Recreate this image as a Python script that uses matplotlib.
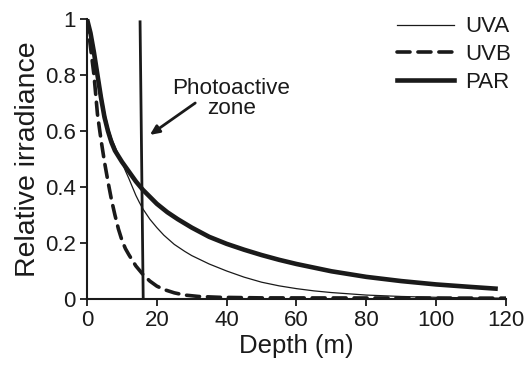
import matplotlib
matplotlib.use("Agg")
import matplotlib.pyplot as plt

plt.rcParams['font.family'] = ['Liberation Sans', 'DejaVu Sans']

# Depth (m) and relative irradiance
par_depth = [0, 1, 2, 3, 4, 5, 6, 7, 8, 9, 10, 12, 14, 16, 18, 20, 23, 26, 30, 35, 40, 45, 50, 55,
             60, 70, 80, 90, 100, 110, 117]
par_vals = [1.0, 0.95, 0.88, 0.80, 0.72, 0.65, 0.60, 0.56, 0.53, 0.51, 0.49, 0.455, 0.42, 0.39,
            0.365, 0.34, 0.31, 0.285, 0.255, 0.222, 0.197, 0.176, 0.157, 0.14, 0.125, 0.099, 0.079,
            0.064, 0.052, 0.043, 0.037]

uva_depth = [0, 1, 2, 3, 4, 5, 6, 7, 8, 9, 10, 11, 12, 13, 14, 15, 16, 18, 20, 22, 25, 28, 30, 35,
             40, 45, 50, 55, 60, 65, 70, 80, 90, 100, 110, 119]
uva_vals = [1.0, 0.96, 0.90, 0.82, 0.74, 0.67, 0.615, 0.575, 0.545, 0.515, 0.49, 0.458, 0.43, 0.40,
            0.37, 0.345, 0.322, 0.285, 0.255, 0.228, 0.195, 0.17, 0.155, 0.125, 0.10, 0.078, 0.06,
            0.047, 0.037, 0.029, 0.023, 0.014, 0.009, 0.006, 0.004, 0.003]

uvb_depth = [0, 1, 2, 3, 4, 5, 6, 7, 8, 9, 10, 11, 12, 14, 16, 18, 20, 22, 25, 28, 32, 38, 50, 120]
uvb_vals = [1.0, 0.90, 0.80, 0.66, 0.57, 0.49, 0.42, 0.355, 0.30, 0.25, 0.21, 0.18, 0.158, 0.118,
            0.088, 0.064, 0.046, 0.034, 0.022, 0.014, 0.009, 0.006, 0.004, 0.003]

zone_x = [15.2, 16.1]
zone_y = [0.99, 0.0]

x_ticks = [0, 20, 40, 60, 80, 100, 120]
y_ticks = [0, 0.2, 0.4, 0.6, 0.8, 1]
y_ticklabels = ['0', '0.2', '0.4', '0.6', '0.8', '1']

ink = '#1a1a1a'
fs = 16

fig = plt.figure(figsize=(5.25, 3.67), dpi=100)
ax = fig.add_axes([0.1657, 0.1853, 0.7981, 0.7629])

ax.plot(uva_depth, uva_vals, color=ink, lw=0.9, label='UVA')
ax.plot(uvb_depth, uvb_vals, color=ink, lw=2.6, ls=(0, (3.6, 2.2)), dash_capstyle='round', label='UVB')
ax.plot(par_depth, par_vals, color=ink, lw=3.3, label='PAR')
ax.plot(zone_x, zone_y, color=ink, lw=2.0)

ax.annotate('', xy=(18.0, 0.586), xytext=(31.0, 0.70),
            arrowprops=dict(arrowstyle='-|>,head_length=0.55,head_width=0.25', color=ink, lw=2.0,
                            shrinkA=0, shrinkB=0))
ax.text(41.3, 0.715, 'Photoactive\nzone', ha='center', va='center', fontsize=16.2, color=ink,
        linespacing=0.92)

ax.set_xlim(0, 120)
ax.set_ylim(0, 1)
ax.set_xticks(x_ticks)
ax.set_yticks(y_ticks)
ax.set_yticklabels(y_ticklabels)
ax.tick_params(direction='out', length=5, width=1.3, labelsize=fs, colors=ink, pad=3)
for s in ['top', 'right']:
    ax.spines[s].set_visible(False)
for s in ['left', 'bottom']:
    ax.spines[s].set_linewidth(1.5)
    ax.spines[s].set_color(ink)

ax.set_xlabel('Depth (m)', fontsize=18.5, color=ink, labelpad=2)
ax.set_ylabel('Relative irradiance', fontsize=20.5, color=ink, labelpad=3)

leg = ax.legend(loc='upper right', bbox_to_anchor=(1.05, 1.065), frameon=False, fontsize=fs,
                handlelength=2.6, handletextpad=0.5, labelspacing=0.3, borderpad=0.2)
for t in leg.get_texts():
    t.set_color(ink)

fig.savefig('out.png', dpi=100)
